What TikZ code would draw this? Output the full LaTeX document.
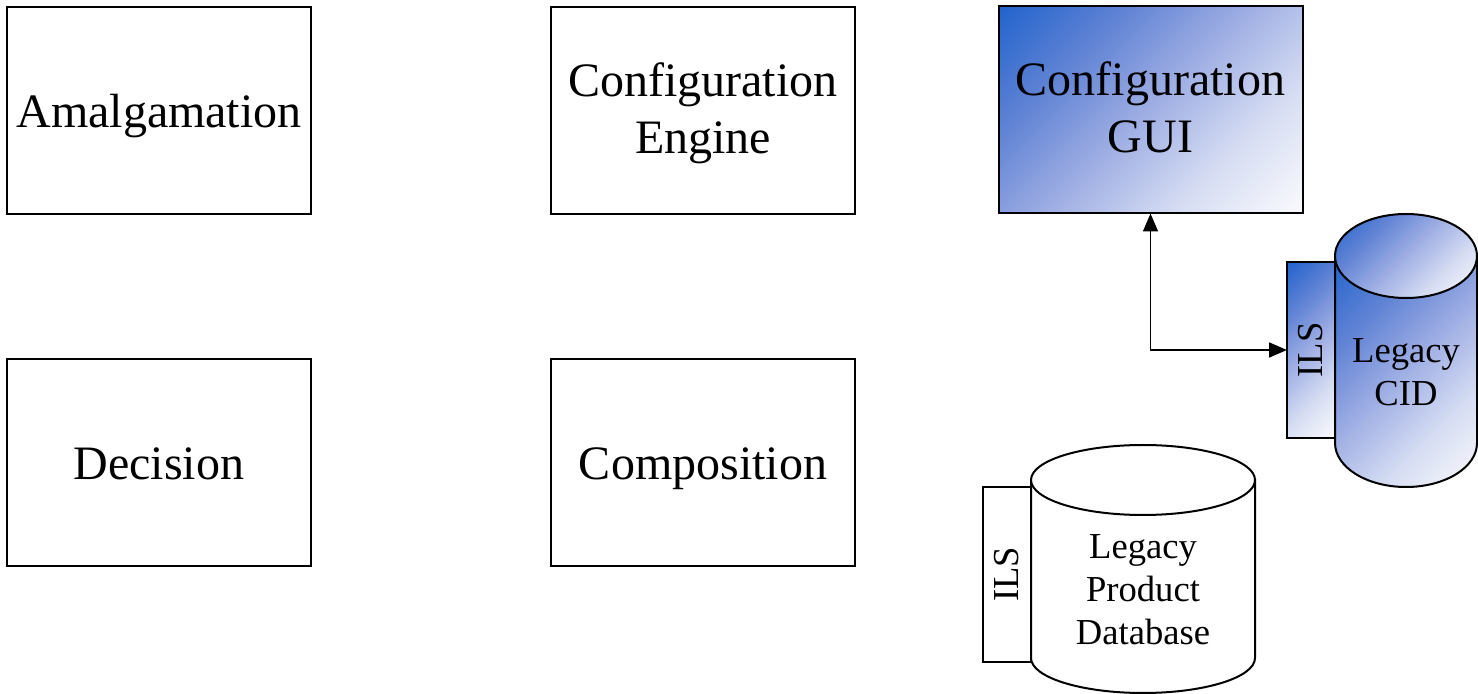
\documentclass[tikz,border=0pt]{standalone}
\usepackage{fontspec}
\setmainfont{Liberation Serif}
\usepackage{tikz}
\usetikzlibrary{arrows.meta}
\definecolor{bleu}{RGB}{35,100,205}
\definecolor{bleumoyen}{RGB}{95,130,212}
\definecolor{lavande}{RGB}{160,175,228}
\definecolor{pale}{RGB}{215,222,243}
\definecolor{blanc}{RGB}{250,250,253}
\pgfdeclarehorizontalshading{bleublanc}{100bp}{color(0bp)=(bleu); color(15bp)=(bleu);
    color(32bp)=(bleumoyen); color(50bp)=(lavande); color(68bp)=(pale);
    color(85bp)=(blanc); color(100bp)=(blanc)}

\begin{document}
\begin{tikzpicture}[x=0.5pt,y=-0.5pt,
            boite/.style={draw=black, line width=1pt, rectangle, inner sep=0pt, outer sep=0pt,
                minimum width=152pt, minimum height=103.5pt, align=center,
                font=\fontsize{24}{28.5}\selectfont,
                execute at begin node=\strut, execute at end node=\strut}, boite/.default=,
            texte/.style={yshift=-3pt}, texte/.default=,
            degrade/.style={shading=bleublanc, shading angle=-45}, degrade/.default=,
            cyl/.style={draw=black, line width=1pt}, cyl/.default=,
            onglet/.style={draw=black, line width=1pt, rectangle, inner sep=0pt, outer sep=0pt,
                minimum width=24pt, minimum height=#1}, onglet/.default=88pt,
            etiq/.style={align=center, font=\fontsize{18.3}{21.5}\selectfont}, etiq/.default=,
            fleche/.style={line width=0.8pt, {Triangle[length=9pt,width=7.5pt]}-{Triangle[length=9pt,width=7.5pt]}}, fleche/.default=,
        ]
        \useasboundingbox (0,0) rectangle (1478,694);
        % les cinq blocs
        \node[boite] (amalg) at (159,110.5) {};
        \node[boite, draw=none, texte] at (amalg) {Amalgamation};
        \node[boite] (moteur) at (703,110.5) {};
        \node[boite, draw=none, texte] at (moteur) {Configuration\\Engine};
        \node[boite, degrade] (gui) at (1150.5,110) {};
        \node[boite, draw=none, texte] at (gui) {Configuration\\GUI};
        \node[boite] (decision) at (159,462.5) {};
        \node[boite, draw=none, texte] at (decision) {Decision};
        \node[boite] (compo) at (703,462.5) {};
        \node[boite, draw=none, texte] at (compo) {Composition};
        % Legacy CID
        \node[onglet=88pt, degrade] (ilscid) at (1311,350) {};
        \node[etiq, rotate=90] at (ilscid) {ILS};
        \path[cyl, degrade] (1335,256) -- (1335,443)
            arc[start angle=180, end angle=0, x radius=71, y radius=44] -- (1477,256) -- cycle;
        \path[cyl, degrade] (1406,256) ellipse[x radius=71, y radius=42];
        \node[etiq] (cid) at (1406,372) {Legacy\\CID};
        % Legacy Product Database
        \node[onglet=87.5pt, fill=white] (ilsprod) at (1007,574.5) {};
        \node[etiq, rotate=90] at (ilsprod) {ILS};
        \draw[cyl, fill=white] (1031,480) -- (1031,658)
            arc[start angle=180, end angle=0, x radius=112, y radius=35] -- (1255,480) -- cycle;
        \draw[cyl, fill=white] (1143,480) ellipse[x radius=112, y radius=35];
        \node[etiq] (prod) at (1143,590) {Legacy\\Product\\Database};
        % liaison
        \draw[fleche] (gui.south) |- (ilscid.west);
    \end{tikzpicture}
\end{document}
